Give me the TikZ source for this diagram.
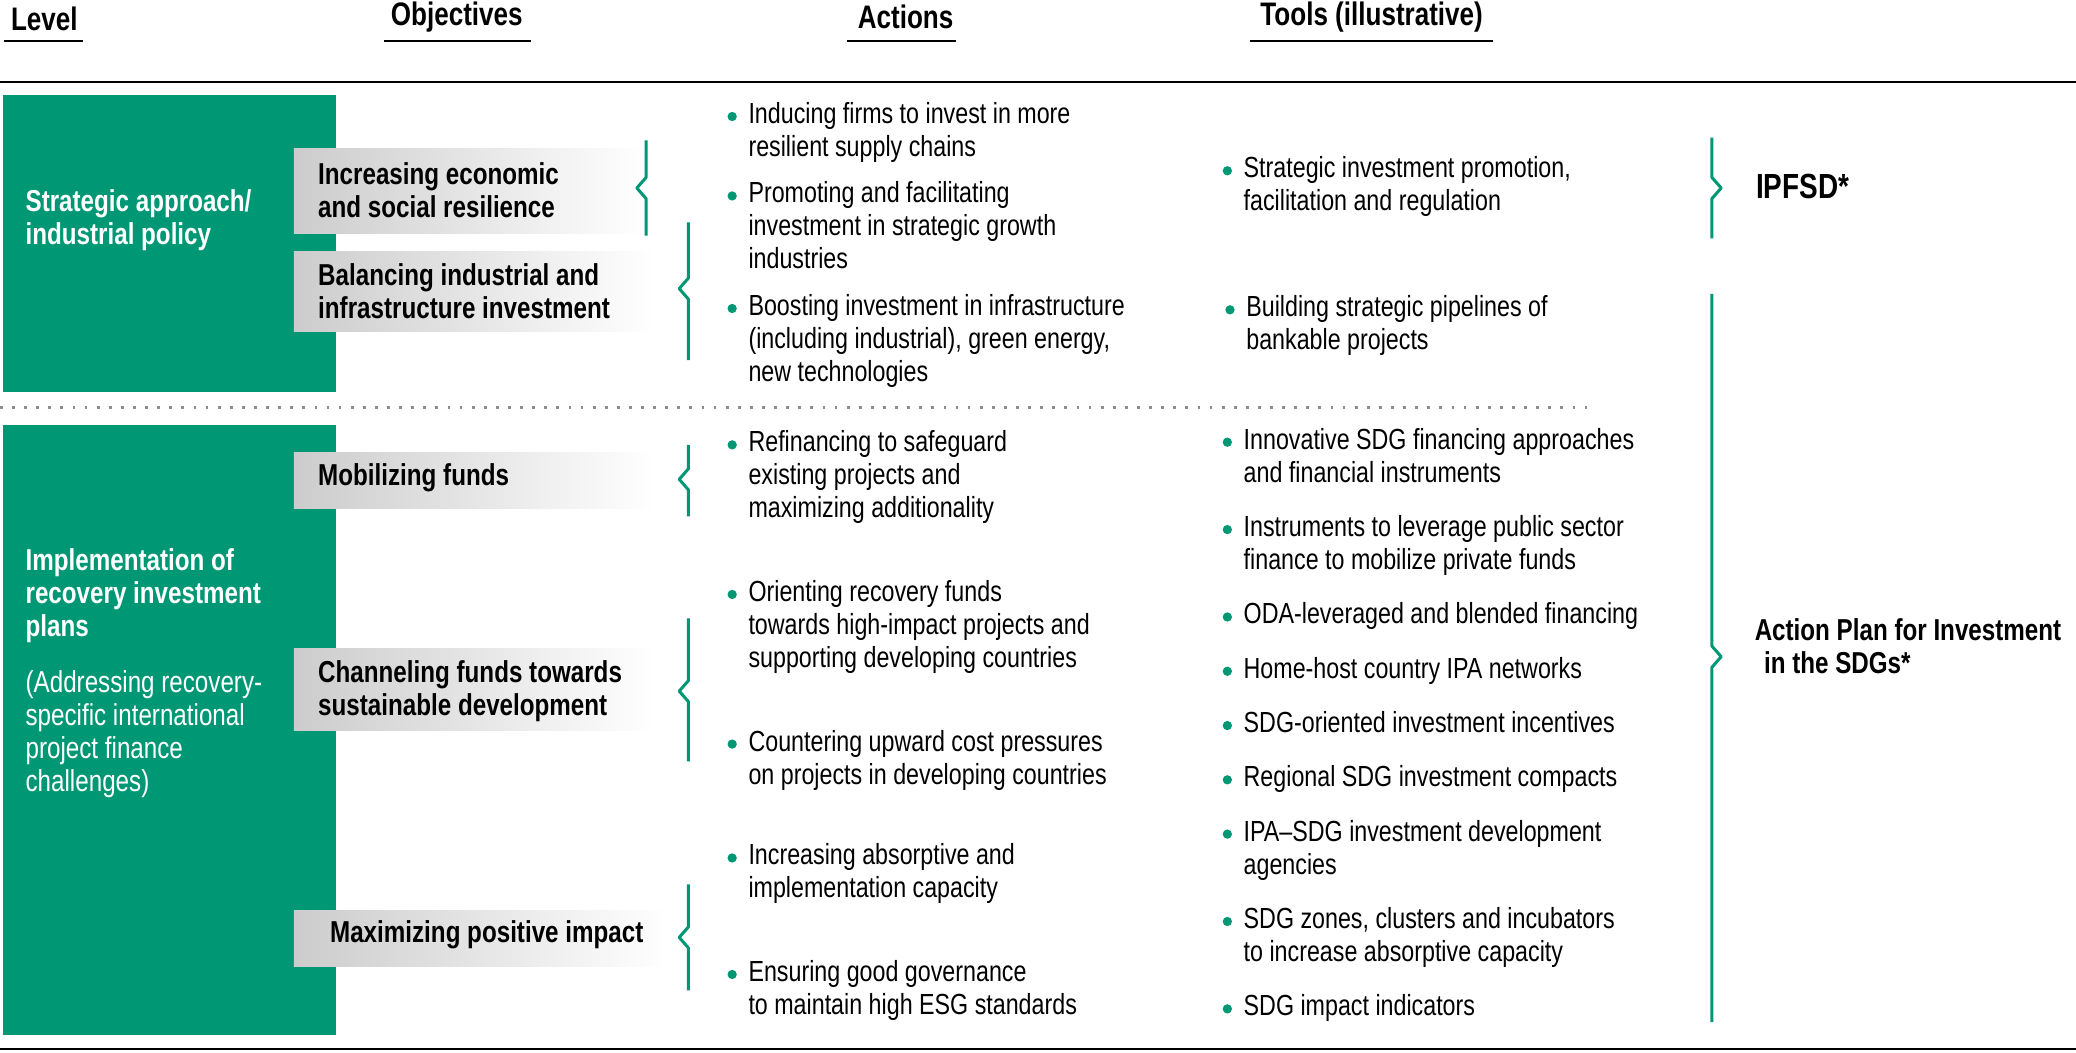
\documentclass[tikz,border=0pt]{standalone}
\usepackage{fontspec}
\setmainfont[FakeStretch=0.8]{Liberation Sans}
\usetikzlibrary{positioning, calc}
\definecolor{unctadgreen}{HTML}{009775}
\tikzset{
  hdr/.style={font=\fontsize{14}{16}\selectfont\bfseries, inner sep=0pt},
  lvlbox/.style={fill=unctadgreen, draw=none},
  lvltext/.style={anchor=north west, inner sep=0pt, align=left, text=white, font=\fontsize{13}{14.2}\selectfont},
  objbox/.style={left color=black!20, right color=white, draw=none},
  objtext/.style={anchor=west, inner sep=0pt, align=left, font=\fontsize{13}{14.2}\selectfont\bfseries},
  txt/.style={anchor=north west, inner sep=0pt, align=left, font=\fontsize{12.5}{14.2}\selectfont},
  bul/.style={circle, fill=unctadgreen, inner sep=0pt, minimum size=4pt},
  brace/.style={draw=unctadgreen, line width=1.3pt, line join=round},
  side/.style={anchor=west, inner sep=0pt, align=left, font=\fontsize{13}{14.2}\selectfont\bfseries}
}
% bullet with text, first line centred at y
\newcommand{\bitem}[4]{%
  \node[bul] at (#1-12,#2) {};
  \node[txt] (#3) at (#1,#2-11) {#4};}
% brace: x, top, tip, bottom, direction (-1 left, 1 right)
\newcommand{\brc}[5]{%
  \draw[brace] (#1,#2) -- (#1,#3-8) -- (#1+#5*7,#3) -- (#1,#3+8) -- (#1,#4);}
\begin{document}
\begin{tikzpicture}[x=0.02cm, y=-0.02cm]
  \useasboundingbox (0,0) rectangle (1568,795);
  % headers
  \node[hdr, anchor=west] (lvl) at (8,14) {Level};
  \node[hdr] (obj) at (345,13) {Objectives};
  \node[hdr] (act) at (684,13) {Actions};
  \node[hdr] (tls) at (1036,13) {Tools (illustrative)};
  \draw[thick] (3,31) -- (63,31);
  \draw[thick] (290,31) -- (401,31);
  \draw[thick] (640,31) -- (722,31);
  \draw[thick] (944,31) -- (1128,31);
  \draw[thick] (0,62) -- (1568,62);
  \draw[thick] (0,792) -- (1568,792);
  \draw[black!45, line width=1.2pt, dash pattern=on 1.2pt off 4pt] (0,308) -- (1200,308);

  % levels
  \fill[lvlbox] (2,72) rectangle (254,296);
  \fill[lvlbox] (2,321) rectangle (254,782);
  \node[lvltext] (strat) at (19,143) {\bfseries Strategic approach/\\\bfseries industrial policy};
  \node[lvltext] (impl) at (19,414) {\bfseries Implementation of\\\bfseries recovery investment\\\bfseries plans\\[10pt]
    (Addressing recovery-\\specific international\\project finance\\challenges)};

  % objectives
  \shade[objbox] (222,112) rectangle (488,176);
  \shade[objbox] (222,190) rectangle (495,250);
  \shade[objbox] (222,342) rectangle (495,384);
  \shade[objbox] (222,490) rectangle (495,552);
  \shade[objbox] (222,688) rectangle (505,730);
  \node[objtext] (o1) at (240,144) {Increasing economic\\and social resilience};
  \node[objtext] (o2) at (240,220) {Balancing industrial and\\infrastructure investment};
  \node[objtext] (o3) at (240,361) {Mobilizing funds};
  \node[objtext] (o4) at (240,522) {Channeling funds towards\\sustainable development};
  \node[objtext] (o5) at (249,706) {Maximizing positive impact};
  \brc{488}{106}{142}{178}{-1}
  \brc{520}{168}{218}{272}{-1}
  \brc{520}{336}{362}{390}{-1}
  \brc{520}{467}{522}{575}{-1}
  \brc{520}{668}{708}{748}{-1}

  % actions
  \bitem{565}{88}{a1}{Inducing firms to invest in more\\resilient supply chains}
  \bitem{565}{148}{a2}{Promoting and facilitating\\investment in strategic growth\\industries}
  \bitem{565}{233}{a3}{Boosting investment in infrastructure\\(including industrial), green energy,\\new technologies}
  \bitem{565}{336}{a4}{Refinancing to safeguard\\existing projects and\\maximizing additionality}
  \bitem{565}{449}{a5}{Orienting recovery funds\\towards high-impact projects and\\supporting developing countries}
  \bitem{565}{562}{a6}{Countering upward cost pressures\\on projects in developing countries}
  \bitem{565}{648}{a7}{Increasing absorptive and\\implementation capacity}
  \bitem{565}{736}{a8}{Ensuring good governance\\to maintain high ESG standards}

  % tools
  \bitem{939}{129}{t1}{Strategic investment promotion,\\facilitation and regulation}
  \bitem{941}{234}{t2}{Building strategic pipelines of\\bankable projects}
  \bitem{939}{334}{t3}{Innovative SDG financing approaches\\and financial instruments}
  \bitem{939}{400}{t4}{Instruments to leverage public sector\\finance to mobilize private funds}
  \bitem{939}{466}{t5}{ODA-leveraged and blended financing}
  \bitem{939}{507}{t6}{Home-host country IPA networks}
  \bitem{939}{548}{t7}{SDG-oriented investment incentives}
  \bitem{939}{589}{t8}{Regional SDG investment compacts}
  \bitem{939}{630}{t9}{IPA--SDG investment development\\agencies}
  \bitem{939}{696}{t10}{SDG zones, clusters and incubators\\to increase absorptive capacity}
  \bitem{939}{762}{t11}{SDG impact indicators}

  % frameworks
  \brc{1293}{104}{142}{180}{1}
  \brc{1293}{222}{496}{772}{1}
  \node[side, font=\fontsize{15}{16}\selectfont\bfseries] (ipfsd) at (1326,141) {IPFSD*};
  \node[side] (apis) at (1325,488) {Action Plan for Investment\\\hspace{4pt}in the SDGs*};
\end{tikzpicture}
\end{document}
